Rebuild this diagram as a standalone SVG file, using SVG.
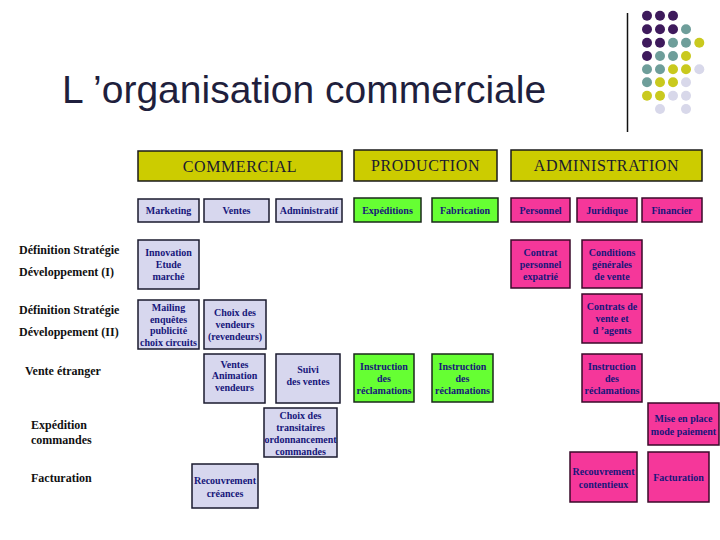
<svg xmlns="http://www.w3.org/2000/svg" width="720" height="540" viewBox="0 0 720 540">
<style>
.bg{fill:#ffffff}
.title{font-family:"Liberation Sans",Arial,sans-serif;font-size:39px;fill:#1f1f3d}
.hdr rect{fill:#cccc00;stroke:#1a1a1a;stroke-width:1.5}
.hdr text{font-family:"Liberation Serif","Times New Roman",serif;font-size:16px;letter-spacing:0.6px;fill:#1a1a2e;text-anchor:middle}
.lav rect{fill:#d7d7ee;stroke:#1a1a2e;stroke-width:1.5}
.grn rect{fill:#66ff33;stroke:#1a2a1a;stroke-width:1.5}
.pnk rect{fill:#f5379a;stroke:#3a0a2a;stroke-width:1.5}
.node text{font-family:"Liberation Serif","Times New Roman",serif;font-size:10px;font-weight:bold;fill:#16167a;text-anchor:middle}
.lbl{font-family:"Liberation Serif","Times New Roman",serif;font-size:12px;font-weight:bold;fill:#111111}
.dp{fill:#3e1a5c}.dt{fill:#6e9e9a}.dy{fill:#c9c91e}.dl{fill:#d8d8ea}
</style>
<rect class="bg" x="0" y="0" width="720" height="540"/>

<g id="decor">
<line x1="627.5" y1="13" x2="627.5" y2="132" stroke="#111" stroke-width="1.5"/>
<circle class="dp" cx="647" cy="15.7" r="5"/><circle class="dp" cx="660" cy="15.7" r="5"/><circle class="dp" cx="673" cy="15.7" r="5"/>
<circle class="dp" cx="647" cy="29.3" r="5"/><circle class="dp" cx="660" cy="29.3" r="5"/><circle class="dp" cx="673" cy="29.3" r="5"/><circle class="dt" cx="686" cy="29.3" r="5"/>
<circle class="dp" cx="647" cy="42.7" r="5"/><circle class="dp" cx="660" cy="42.7" r="5"/><circle class="dt" cx="673" cy="42.7" r="5"/><circle class="dt" cx="686" cy="42.7" r="5"/><circle class="dy" cx="699.3" cy="42.7" r="5"/>
<circle class="dp" cx="647" cy="56" r="5"/><circle class="dt" cx="660" cy="56" r="5"/><circle class="dt" cx="673" cy="56" r="5"/><circle class="dy" cx="686" cy="56" r="5"/>
<circle class="dt" cx="647" cy="69.3" r="5"/><circle class="dt" cx="660" cy="69.3" r="5"/><circle class="dy" cx="673" cy="69.3" r="5"/><circle class="dy" cx="686" cy="69.3" r="5"/><circle class="dl" cx="699.3" cy="69.3" r="5"/>
<circle class="dt" cx="647" cy="82.3" r="5"/><circle class="dy" cx="660" cy="82.3" r="5"/><circle class="dy" cx="673" cy="82.3" r="5"/><circle class="dl" cx="686" cy="82.3" r="5"/>
<circle class="dy" cx="647" cy="95.7" r="5"/><circle class="dy" cx="660" cy="95.7" r="5"/><circle class="dl" cx="673" cy="95.7" r="5"/><circle class="dl" cx="686" cy="95.7" r="5"/>
<circle class="dl" cx="660" cy="109" r="5"/><circle class="dl" cx="686" cy="109" r="5"/>
</g>

<text class="title" x="62" y="103">L ’organisation commerciale</text>

<g id="row-labels">
<text class="lbl" x="19" y="254">Définition Stratégie</text>
<text class="lbl" x="19" y="276">Développement (I)</text>
<text class="lbl" x="19" y="314">Définition Stratégie</text>
<text class="lbl" x="19" y="336">Développement (II)</text>
<text class="lbl" x="25" y="375">Vente étranger</text>
<text class="lbl" x="31" y="429">Expédition</text>
<text class="lbl" x="31" y="444">commandes</text>
<text class="lbl" x="31" y="482">Facturation</text>
</g>

<g id="hdr-commercial" class="hdr"><rect x="138" y="151" width="204" height="30"/><text x="240" y="171.5">COMMERCIAL</text></g>
<g id="hdr-production" class="hdr"><rect x="354" y="150" width="143" height="31"/><text x="425.5" y="171">PRODUCTION</text></g>
<g id="hdr-administration" class="hdr"><rect x="511" y="150" width="191" height="31"/><text x="606.5" y="171">ADMINISTRATION</text></g>

<g id="marketing" class="node lav"><rect x="138" y="199" width="61" height="23"/><text x="168.5" y="214">Marketing</text></g>
<g id="ventes" class="node lav"><rect x="204" y="199" width="65" height="23"/><text x="236.5" y="214">Ventes</text></g>
<g id="administratif" class="node lav"><rect x="276" y="199" width="66" height="23"/><text x="309" y="214">Administratif</text></g>
<g id="expeditions" class="node grn"><rect x="354" y="198" width="67" height="24"/><text x="387.5" y="214">Expéditions</text></g>
<g id="fabrication" class="node grn"><rect x="432" y="198" width="66" height="24"/><text x="465" y="214">Fabrication</text></g>
<g id="personnel" class="node pnk"><rect x="511" y="198" width="59" height="24"/><text x="540.5" y="214">Personnel</text></g>
<g id="juridique" class="node pnk"><rect x="577" y="198" width="60" height="24"/><text x="607" y="214">Juridique</text></g>
<g id="financier" class="node pnk"><rect x="642" y="198" width="60" height="24"/><text x="672" y="214">Financier</text></g>

<g id="innovation" class="node lav"><rect x="138" y="240" width="61" height="49"/><text x="168.5" y="255.5">Innovation</text><text x="168.5" y="267.5">Etude</text><text x="168.5" y="279.5">marché</text></g>
<g id="contrat-personnel" class="node pnk"><rect x="511" y="240" width="59" height="48"/><text x="540.5" y="255.5">Contrat</text><text x="540.5" y="267.5">personnel</text><text x="540.5" y="279.5">expatrié</text></g>
<g id="conditions" class="node pnk"><rect x="582" y="240" width="60" height="48"/><text x="612" y="255.5">Conditions</text><text x="612" y="267.5">générales</text><text x="612" y="279.5">de vente</text></g>

<g id="mailing" class="node lav"><rect x="138" y="300" width="61" height="49"/><text x="168.5" y="311">Mailing</text><text x="168.5" y="322.5">enquêtes</text><text x="168.5" y="334">publicité</text><text x="168.5" y="345.5">choix circuits</text></g>
<g id="choix-vendeurs" class="node lav"><rect x="204" y="300" width="62" height="49"/><text x="235" y="315.5">Choix des</text><text x="235" y="327.5">vendeurs</text><text x="235" y="339.5">(revendeurs)</text></g>
<g id="contrats-vente" class="node pnk"><rect x="582" y="294" width="60" height="49"/><text x="612" y="309.5">Contrats de</text><text x="612" y="321.5">vente et</text><text x="612" y="333.5">d ’agents</text></g>

<g id="ventes-animation" class="node lav"><rect x="204" y="354" width="61" height="49"/><text x="234.5" y="367.5">Ventes</text><text x="234.5" y="379">Animation</text><text x="234.5" y="390.5">vendeurs</text></g>
<g id="suivi" class="node lav"><rect x="276" y="354" width="64" height="49"/><text x="308" y="372.5">Suivi</text><text x="308" y="384.5">des ventes</text></g>
<g id="instruction-1" class="node grn"><rect x="354" y="354" width="60" height="48"/><text x="384" y="369.5">Instruction</text><text x="384" y="381.5">des</text><text x="384" y="393.5">réclamations</text></g>
<g id="instruction-2" class="node grn"><rect x="432" y="354" width="61" height="48"/><text x="462.5" y="369.5">Instruction</text><text x="462.5" y="381.5">des</text><text x="462.5" y="393.5">réclamations</text></g>
<g id="instruction-3" class="node pnk"><rect x="582" y="354" width="60" height="48"/><text x="612" y="369.5">Instruction</text><text x="612" y="381.5">des</text><text x="612" y="393.5">réclamations</text></g>

<g id="choix-transitaires" class="node lav"><rect x="264" y="408" width="73" height="49"/><text x="300.5" y="419">Choix des</text><text x="300.5" y="431">transitaires</text><text x="300.5" y="443">ordonnancement</text><text x="300.5" y="455">commandes</text></g>
<g id="mise-en-place" class="node pnk"><rect x="648" y="403" width="71" height="42"/><text x="683.5" y="421.5">Mise en place</text><text x="683.5" y="434.5">mode paiement</text></g>

<g id="recouvrement-creances" class="node lav"><rect x="192" y="464" width="66" height="44"/><text x="225" y="483.5">Recouvrement</text><text x="225" y="496.5">créances</text></g>
<g id="recouvrement-contentieux" class="node pnk"><rect x="570" y="452" width="67" height="50"/><text x="603.5" y="474.5">Recouvrement</text><text x="603.5" y="487.5">contentieux</text></g>
<g id="facturation" class="node pnk"><rect x="648" y="452" width="61" height="50"/><text x="678.5" y="480.5">Facturation</text></g>
</svg>
